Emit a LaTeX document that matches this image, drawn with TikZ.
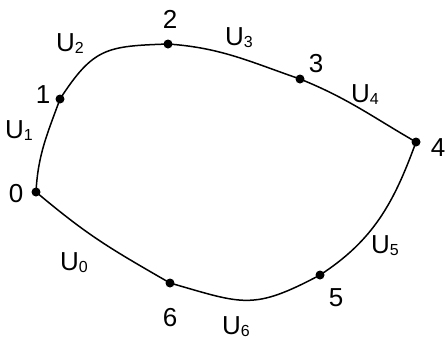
\documentclass[tikz,border=0pt]{standalone}
\usepackage{fontspec}
\setmainfont{Liberation Sans}
\newcommand{\Ulab}[1]{U\raisebox{-2pt}{\fontsize{16}{16}\selectfont #1}}
\tikzset{
  dotpt/.style={circle,fill=black,inner sep=0pt,minimum size=9pt},
  numlab/.style={inner sep=0pt,font=\fontsize{26}{26}\selectfont},
  ulab/.style={inner sep=0pt,anchor=base west,font=\fontsize{26}{26}\selectfont},
  curve/.style={line width=1.5pt}
}
\begin{document}
\begin{tikzpicture}[x=1pt,y=1pt]
\useasboundingbox (0,0) rectangle (446,-338);
\coordinate (p0) at (36,-192);
\coordinate (p1) at (60,-99);
\coordinate (p2) at (168,-44);
\coordinate (p3) at (300,-79);
\coordinate (p4) at (416,-142);
\coordinate (p5) at (320,-275);
\coordinate (p6) at (170,-283);
\draw[curve] (p0) to[out=87,in=250] (p1)
  to[out=57,in=182,looseness=1.3] (p2)
  to[out=-4,in=161] (p3)
  to[out=-22,in=150] (p4)
  to[out=250,in=33] (p5)
  to[out=208,in=-16,looseness=1.3] (p6)
  to[out=150,in=-40,looseness=1.1] (p0);
\foreach \i in {0,...,6} \node[dotpt] (d\i) at (p\i) {};
\node[numlab] (n0) at (16,-194) {0};
\node[numlab] (n1) at (43,-95) {1};
\node[numlab] (n2) at (170,-19) {2};
\node[numlab] (n3) at (316,-64) {3};
\node[numlab] (n4) at (438,-148) {4};
\node[numlab] (n5) at (336,-298) {5};
\node[numlab] (n6) at (170,-318) {6};
\node[ulab] (u0) at (60,-270) {\Ulab{0}};
\node[ulab] (u1) at (5,-138) {\Ulab{1}};
\node[ulab] (u2) at (56,-51) {\Ulab{2}};
\node[ulab] (u3) at (225,-45) {\Ulab{3}};
\node[ulab] (u4) at (351,-102) {\Ulab{4}};
\node[ulab] (u5) at (371,-253) {\Ulab{5}};
\node[ulab] (u6) at (222,-334) {\Ulab{6}};
\end{tikzpicture}
\end{document}
